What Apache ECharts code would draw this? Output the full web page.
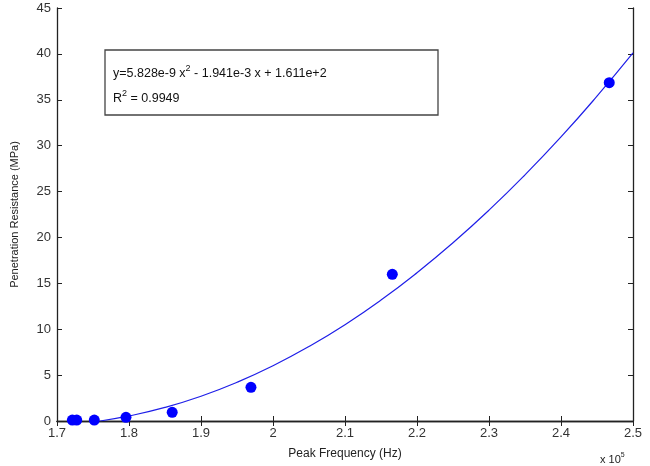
<!DOCTYPE html>
<html>
<head>
<meta charset="utf-8">
<script src="https://cdn.jsdelivr.net/npm/echarts@6/dist/echarts.min.js"></script>
<style>
  html, body { margin: 0; padding: 0; background: #fff; }
  #chart { width: 650px; height: 466px; }
</style>
</head>
<body>
<div id="chart"></div>
<script>
(function () {
  "use strict";
  const chart = echarts.init(document.getElementById("chart"));

  // measured points (frequency in units of 1e5 Hz)
  const freq = [1.7213, 1.7274, 1.7518, 1.7958, 1.860, 1.9694, 2.1657, 2.467];
  const resistance = [0.1, 0.1, 0.1, 0.4, 0.95, 3.67, 15.98, 36.86];

  // fitted curve
  const fitFreq = [1.76, 1.8, 1.85, 1.9, 1.95, 2.0, 2.05, 2.1, 2.15, 2.2, 2.25, 2.3, 2.35, 2.4, 2.45, 2.5];
  const fitRes = [0.0, 0.55, 1.48, 2.70, 4.22, 6.02, 8.12, 10.5, 13.18, 16.16, 19.42, 22.97, 26.82, 30.95, 35.39, 40.1];

  const xMin = 1.7, xMax = 2.5, xStep = 0.1;
  const yMin = 0, yMax = 45, yStep = 5;

  const font = "'Liberation Sans', Arial, sans-serif";
  const axisLine = { lineStyle: { color: "#222", width: 1.3 } };
  const tickIn = { inside: true, length: 5, lineStyle: { color: "#222", width: 1 } };

  const pair = (xs, ys) => xs.map((x, i) => [x, ys[i]]);

  const rich = {
    n: { fontSize: 12.5, fontFamily: font, fill: "#111", verticalAlign: "bottom" },
    s: { fontSize: 9, fontFamily: font, fill: "#111", verticalAlign: "top", padding: [0, 0, 7, 0] },
  };

  chart.setOption({
    animation: false,
    textStyle: { fontFamily: font },
    grid: { left: 57, right: 17, top: 8, bottom: 45 },
    xAxis: [
      { type: "value", min: xMin, max: xMax, interval: xStep, position: "bottom",
        axisLine, axisTick: tickIn, splitLine: { show: false },
        axisLabel: { color: "#333", fontSize: 13, margin: 6, formatter: v => String(+v.toFixed(1)) },
        name: "Peak Frequency (Hz)", nameLocation: "middle", nameGap: 27,
        nameTextStyle: { color: "#222", fontSize: 12, fontFamily: font } },
      { type: "value", min: xMin, max: xMax, interval: xStep, position: "top",
        axisLine, axisTick: tickIn, axisLabel: { show: false }, splitLine: { show: false } },
    ],
    yAxis: [
      { type: "value", min: yMin, max: yMax, interval: yStep, position: "left",
        axisLine, axisTick: tickIn, splitLine: { show: false },
        axisLabel: { color: "#333", fontSize: 13, margin: 6 },
        name: "Penetration Resistance (MPa)", nameLocation: "middle", nameGap: 37,
        nameTextStyle: { color: "#222", fontSize: 11, fontFamily: font } },
      { type: "value", min: yMin, max: yMax, interval: yStep, position: "right",
        axisLine, axisTick: tickIn, axisLabel: { show: false }, splitLine: { show: false } },
    ],
    series: [
      { name: "fit", type: "line", data: pair(fitFreq, fitRes), smooth: true, showSymbol: false,
        lineStyle: { color: "#1f1fe8", width: 1.2 }, z: 2 },
      { name: "data", type: "scatter", data: pair(freq, resistance), symbolSize: 11,
        itemStyle: { color: "#0000ff", opacity: 1 }, z: 3 },
    ],
    graphic: [
      { type: "rect", shape: { x: 105, y: 50, width: 333, height: 65 },
        style: { fill: "#fff", stroke: "#444", lineWidth: 1.3 }, z: 10 },
      { type: "text", x: 113, y: 64, z: 11,
        style: { text: "{n|y=5.828e-9 x}{s|2}{n| - 1.941e-3 x + 1.611e+2}", rich } },
      { type: "text", x: 113, y: 89, z: 11,
        style: { text: "{n|R}{s|2}{n| = 0.9949}", rich } },
      { type: "text", x: 600, y: 452, z: 11,
        style: { text: "{n|x 10}{s|5}",
          rich: { n: { fontSize: 11, fontFamily: font, fill: "#222" },
                  s: { fontSize: 7, fontFamily: font, fill: "#222", padding: [0, 0, 8, 0] } } } },
    ],
  });

  window.addEventListener("resize", () => chart.resize());
})();
</script>
</body>
</html>
